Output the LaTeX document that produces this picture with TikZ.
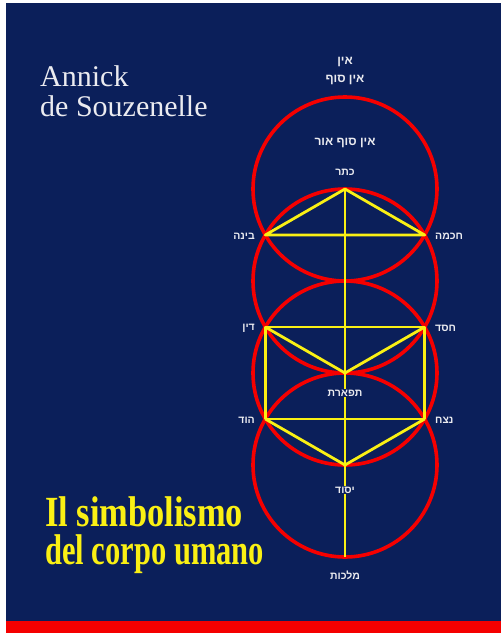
\documentclass[tikz,border=0pt]{standalone}
\usepackage{fontspec}
\setmainfont{Liberation Serif}
\newfontfamily\hebfont[Script=Hebrew]{Liberation Sans}
\TeXXeTstate=1
\newcommand{\hebt}[1]{{\hebfont\beginR #1\endR}}
\definecolor{navybg}{RGB}{11,31,90}
\definecolor{redc}{RGB}{245,0,0}
\definecolor{yelc}{RGB}{250,240,20}
\definecolor{lightt}{RGB}{235,235,240}
\begin{document}
\begin{tikzpicture}[x=1pt,y=-1pt,
  ring/.style={draw=redc,line width=3.6pt},
  path/.style={draw=yelc,line width=2.8pt},
  heb/.style={text=lightt,font=\hebfont\bfseries\fontsize{10.5}{11}\selectfont,inner sep=1pt},
  hebbig/.style={heb,font=\hebfont\bfseries\fontsize{12}{13}\selectfont},
  author/.style={text=lightt,font=\fontsize{30}{32}\selectfont,anchor=base west,inner sep=0pt},
  titl/.style={text=yelc,font=\bfseries\fontsize{43}{38}\selectfont,anchor=north west,inner sep=0pt,align=left}]
\useasboundingbox (0,0) rectangle (501,633);
\fill[white] (0,0) rectangle (501,633);
\fill[navybg] (6,3) rectangle (501,621);
\fill[redc] (6,621) rectangle (501,633);

% circles
\foreach \cy in {189,281,373,465}
  \draw[ring] (345,\cy) circle[radius=92pt];

% sefirot points
\coordinate (K) at (345,189);
\coordinate (B) at (265.3,235);
\coordinate (C) at (424.7,235);
\coordinate (D) at (265.3,327);
\coordinate (Ch) at (424.7,327);
\coordinate (T) at (345,373);
\coordinate (H) at (265.3,419);
\coordinate (N) at (424.7,419);
\coordinate (Y) at (345,465);
\coordinate (M) at (345,557);

% labels
\node[hebbig] (ein) at (345,62) {\hebt{אין}};
\node[hebbig] (einsof) at (345,80) {\hebt{אין סוף}};
\node[hebbig] (eso) at (345,143) {\hebt{אין סוף אור}};
\node[heb] (Kl) at (345,172) {\hebt{כתר}};
\node[heb,anchor=east] (Bl) at (256,236) {\hebt{בינה}};
\node[heb,anchor=west] (Cl) at (434,236) {\hebt{חכמה}};
\node[heb,anchor=east] (Dl) at (256,328) {\hebt{דין}};
\node[heb,anchor=west] (Chl) at (434,328) {\hebt{חסד}};
\node[heb] (Tl) at (345,393) {\hebt{תפארת}};
\node[heb,anchor=east] (Hl) at (256,420) {\hebt{הוד}};
\node[heb,anchor=west] (Nl) at (434,420) {\hebt{נצח}};
\node[heb] (Yl) at (345,490) {\hebt{יסוד}};
\node[heb] (Ml) at (345,575) {\hebt{מלכות}};

% paths
\draw[path,line join=round] (B) -- (K) -- (C) -- cycle;
\draw[path] (K) -- (Tl.north);
\draw[path] (Tl.south) -- (Yl.north);
\draw[path] (Yl.south) -- (M);
\draw[path,line join=round] (D) -- (Ch) -- (N) -- (H) -- cycle;
\draw[path] (D) -- (T) -- (Ch);
\draw[path] (H) -- (Y) -- (N);

% texts
\node[author] (a1) at (40,86) {Annick};
\node[author] (a2) at (40,116) {de Souzenelle};
\node[titl] (t1) at (45,496) {\scalebox{0.80}[1]{Il simbolismo}\\\scalebox{0.71}[1]{del corpo umano}};
\end{tikzpicture}
\end{document}
